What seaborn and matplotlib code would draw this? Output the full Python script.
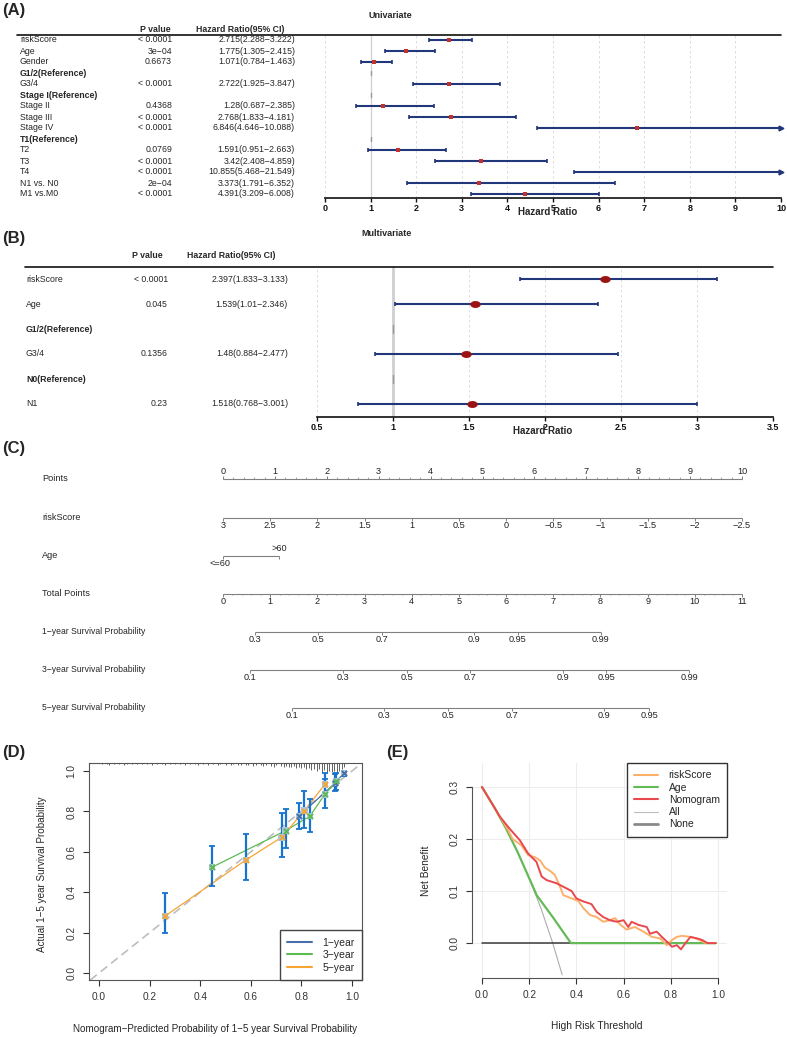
import numpy as np
import pandas as pd
import seaborn as sns
import matplotlib.pyplot as plt
from matplotlib.path import Path
from matplotlib.lines import Line2D
from matplotlib.transforms import blended_transform_factory

nan = np.nan

# ---------------- (A) univariate Cox ----------------
uni_names = ["riskScore", "Age", "Gender", "G1/2(Reference)", "G3/4", "Stage I(Reference)",
             "Stage II", "Stage III", "Stage IV", "T1(Reference)", "T2", "T3", "T4",
             "N1 vs. N0", "M1 vs.M0"]
uni_p = ["< 0.0001", "3e−04", "0.6673", "", "< 0.0001", "", "0.4368", "< 0.0001", "< 0.0001",
         "", "0.0769", "< 0.0001", "< 0.0001", "2e−04", "< 0.0001"]
uni_hr = [2.715, 1.775, 1.071, nan, 2.722, nan, 1.28, 2.768, 6.846, nan, 1.591, 3.42, 10.855, 3.373, 4.391]
uni_lo = [2.288, 1.305, 0.784, nan, 1.925, nan, 0.687, 1.833, 4.646, nan, 0.951, 2.408, 5.468, 1.791, 3.209]
uni_hi = [3.222, 2.415, 1.463, nan, 3.847, nan, 2.385, 4.181, 10.088, nan, 2.663, 4.859, 21.549, 6.352, 6.008]
uni_ticks = [0, 1, 2, 3, 4, 5, 6, 7, 8, 9, 10]

# ---------------- (B) multivariate Cox ----------------
multi_names = ["riskScore", "Age", "G1/2(Reference)", "G3/4", "N0(Reference)", "N1"]
multi_p = ["< 0.0001", "0.045", "", "0.1356", "", "0.23"]
multi_hr = [2.397, 1.539, nan, 1.48, nan, 1.518]
multi_lo = [1.833, 1.01, nan, 0.884, nan, 0.768]
multi_hi = [3.133, 2.346, nan, 2.477, nan, 3.001]
multi_ticks = [0.5, 1, 1.5, 2, 2.5, 3, 3.5]

# ---------------- (C) nomogram ----------------
nomo_labels = ["Points", "riskScore", "Age", "Total Points", "1−year Survival Probability",
               "3−year Survival Probability", "5−year Survival Probability"]
points_ticks = [0, 1, 2, 3, 4, 5, 6, 7, 8, 9, 10]
risk_ticks = [3, 2.5, 2, 1.5, 1, 0.5, 0, -0.5, -1, -1.5, -2, -2.5]
risk_ends = [3, -2.5]            # riskScore at 0 and 10 points
age_levels = ["<=60", ">60"]
age_points = [0, 1.08]
total_ticks = [0, 1, 2, 3, 4, 5, 6, 7, 8, 9, 10, 11]
surv1_labels = ["0.3", "0.5", "0.7", "0.9", "0.95", "0.99"]
surv1_total = [0.68, 2.01, 3.37, 5.32, 6.25, 8.01]
surv3_labels = ["0.1", "0.3", "0.5", "0.7", "0.9", "0.95", "0.99"]
surv3_total = [0.57, 2.54, 3.90, 5.24, 7.21, 8.12, 9.88]
surv5_labels = ["0.1", "0.3", "0.5", "0.7", "0.9", "0.95"]
surv5_total = [1.46, 3.41, 4.77, 6.13, 8.08, 9.03]

# ---------------- (D) calibration ----------------
cal1_x = [0.790, 0.935, 0.968]
cal1_y = [0.777, 0.942, 0.990]
cal1_lo = [0.715, 0.902, 0.975]
cal1_hi = [0.843, 0.985, 1.000]
cal3_x = [0.447, 0.738, 0.834, 0.893, 0.939]
cal3_y = [0.524, 0.705, 0.777, 0.885, 0.950]
cal3_lo = [0.430, 0.620, 0.698, 0.818, 0.905]
cal3_hi = [0.630, 0.810, 0.863, 0.960, 0.990]
cal5_x = [0.261, 0.581, 0.722, 0.812, 0.893]
cal5_y = [0.282, 0.560, 0.672, 0.804, 0.934]
cal5_lo = [0.198, 0.460, 0.575, 0.720, 0.873]
cal5_hi = [0.396, 0.690, 0.790, 0.902, 0.992]
rug_x = [0.01, 0.03, 0.04, 0.06, 0.08, 0.10, 0.11, 0.13, 0.15, 0.17, 0.19, 0.21, 0.23, 0.25, 0.26,
         0.28, 0.30, 0.32, 0.34, 0.36, 0.38, 0.39, 0.41, 0.43, 0.45, 0.47, 0.48, 0.50, 0.52, 0.53,
         0.55, 0.56, 0.58, 0.59, 0.61, 0.62, 0.64, 0.65, 0.66, 0.68, 0.69, 0.70, 0.72, 0.73, 0.74,
         0.75, 0.76, 0.77, 0.78, 0.79, 0.80, 0.81, 0.82, 0.83, 0.84, 0.85, 0.86, 0.87, 0.88, 0.89,
         0.90, 0.91, 0.92, 0.93, 0.94, 0.95, 0.96, 0.97]
rug_h = [0.006, 0.005, 0.008, 0.005, 0.006, 0.008, 0.005, 0.006, 0.007, 0.005,
         0.006, 0.008, 0.006, 0.005, 0.008, 0.006, 0.007, 0.005, 0.008, 0.006,
         0.007, 0.010, 0.006, 0.008, 0.007, 0.010, 0.006, 0.008, 0.012, 0.007,
         0.010, 0.008, 0.012, 0.009, 0.014, 0.010, 0.012, 0.016, 0.010, 0.014,
         0.018, 0.012, 0.016, 0.020, 0.014, 0.022, 0.018, 0.016, 0.024, 0.020,
         0.026, 0.022, 0.030, 0.024, 0.034, 0.028, 0.040, 0.032, 0.044, 0.036,
         0.050, 0.040, 0.046, 0.038, 0.050, 0.042, 0.030, 0.020]

# ---------------- (E) decision curves ----------------
all_t = [0.0, 0.05, 0.10, 0.15, 0.20, 0.25, 0.30, 0.34]
all_nb = [0.300, 0.263, 0.222, 0.176, 0.125, 0.067, 0.000, -0.061]
age_t = [0.0, 0.05, 0.10, 0.15, 0.20, 0.232, 0.30, 0.377, 0.99]
age_nb = [0.300, 0.263, 0.222, 0.176, 0.125, 0.092, 0.050, 0.000, 0.000]
risk_t = [0.0, 0.076, 0.11, 0.13, 0.167, 0.196, 0.224, 0.246, 0.267, 0.288, 0.309, 0.331, 0.345,
          0.38, 0.408, 0.43, 0.458, 0.486, 0.514, 0.542, 0.564, 0.585, 0.613, 0.648, 0.684, 0.72,
          0.755, 0.783, 0.805, 0.826, 0.847, 0.883, 0.912, 0.947, 0.99]
risk_nb = [0.300, 0.243, 0.218, 0.200, 0.188, 0.169, 0.165, 0.159, 0.145, 0.139, 0.131, 0.108, 0.092,
           0.086, 0.081, 0.067, 0.054, 0.050, 0.041, 0.044, 0.048, 0.036, 0.026, 0.031, 0.022, 0.012,
           0.009, -0.004, 0.006, 0.012, 0.014, 0.012, 0.008, 0.000, 0.000]
nomo_t = [0.0, 0.076, 0.117, 0.16, 0.196, 0.231, 0.253, 0.274, 0.316, 0.359, 0.38, 0.40, 0.43,
          0.464, 0.486, 0.514, 0.542, 0.571, 0.60, 0.62, 0.634, 0.663, 0.698, 0.712, 0.74, 0.762,
          0.79, 0.805, 0.826, 0.843, 0.862, 0.883, 0.912, 0.933, 0.955, 0.99]
nomo_nb = [0.300, 0.243, 0.220, 0.198, 0.172, 0.156, 0.128, 0.121, 0.115, 0.105, 0.100, 0.086, 0.080,
           0.075, 0.060, 0.050, 0.044, 0.041, 0.044, 0.031, 0.041, 0.035, 0.031, 0.018, 0.022, 0.012,
           0.000, -0.007, -0.004, -0.012, 0.000, 0.012, 0.009, 0.006, 0.000, 0.000]

# ---------------- figure ----------------
sns.set_theme(style="white")
plt.rcParams['font.family'] = ['Liberation Sans', 'DejaVu Sans']
plt.rcParams['axes.unicode_minus'] = True

W, H = 787, 1037
fig = plt.figure(figsize=(W / 100, H / 100), dpi=100)


def px_axes(l, t, r, b):
    return fig.add_axes([l / W, 1 - b / H, (r - l) / W, (b - t) / H])


def ftext(x, y, s, **kw):
    kw.setdefault('va', 'center')
    fig.text(x / W, 1 - y / H, s, **kw)


navy = '#22367A'


def forest(names, pvals, hr, lo, hi, box, row0, step, ticks, cols, hdr_y, line_x0,
           fs, marker, ms, pcolor, cap, ref_lw):
    l, t, r, b = box
    ax = px_axes(l, t, r, b)
    hr, lo, hi = np.array(hr), np.array(lo), np.array(hi)
    n = len(names)
    rows = np.arange(n)
    ax.set_ylim((b - row0) / step, (t - row0) / step)
    ax.set_xlim(ticks[0], ticks[-1])
    ax.patch.set_alpha(0)
    xmax = ticks[-1]
    for x in ticks:
        ax.axvline(x, color='#D8D8D8', ls=(0, (3, 3)), lw=0.6, zorder=0)
    ax.axvline(1, color='#CFCFCF', lw=ref_lw, zorder=0)
    ok = ~np.isnan(hr)
    ax.hlines(rows[ok], lo[ok], np.minimum(hi[ok], xmax), color=navy, lw=1.5, zorder=2)
    ax.vlines(lo[ok], rows[ok] - cap, rows[ok] + cap, color=navy, lw=1.2, zorder=2)
    inr = ok & (hi <= xmax)
    ax.vlines(hi[inr], rows[inr] - cap, rows[inr] + cap, color=navy, lw=1.2, zorder=2)
    over = ok & (hi > xmax)
    ax.plot(np.full(over.sum(), xmax), rows[over], ls='none', marker='>', ms=3.5,
            color=navy, clip_on=False, zorder=3)
    pt = ok & (hr <= xmax)
    ax.plot(hr[pt], rows[pt], ls='none', marker=marker, ms=ms, color=pcolor, mew=0, zorder=4)
    for i in rows[~ok]:
        ax.plot([1, 1], [i - 0.15, i + 0.15], color='#9A9A9A', lw=1, zorder=1)
    for s in ['left', 'top', 'right']:
        ax.spines[s].set_visible(False)
    ax.spines['bottom'].set_linewidth(1.3)
    ax.spines['bottom'].set_color('#222222')
    ax.set_yticks([])
    ax.set_xticks(ticks)
    ax.set_xticklabels([f"{v:g}" for v in ticks], fontweight='bold')
    ax.tick_params(axis='x', length=3, width=1, pad=1, labelsize=6.5, bottom=True, colors='#111111')

    bl = blended_transform_factory(fig.transFigure, ax.transData)
    name_x, p_x, hr_x, hp_x, hh_x = cols
    for i in rows:
        ref = not ok[i]
        ax.text(name_x / W, i, names[i], transform=bl, ha='left', va='center', fontsize=fs,
                fontweight='bold' if ref else 'normal', clip_on=False)
        if not ref:
            ax.text(p_x / W, i, pvals[i], transform=bl, ha='right', va='center', fontsize=fs, clip_on=False)
            ax.text(hr_x / W, i, f"{hr[i]:g}({lo[i]:g}−{hi[i]:g})", transform=bl, ha='right',
                    va='center', fontsize=fs, clip_on=False)
    hy = (hdr_y - row0) / step
    ax.text(hp_x / W, hy, "P value", transform=bl, ha='center', va='center', fontsize=fs,
            fontweight='bold', clip_on=False)
    ax.text(hh_x / W, hy, "Hazard Ratio(95% CI)", transform=bl, ha='center', va='center',
            fontsize=fs, fontweight='bold', clip_on=False)
    ty = (t - row0) / step
    ax.plot([line_x0 / W, r / W], [ty, ty], transform=bl, color='#111111', lw=1.2, clip_on=False)
    return ax


# (A)
forest(uni_names, uni_p, uni_hr, uni_lo, uni_hi, (325, 35, 781, 198), 40, 11, uni_ticks,
       (20, 172, 295, 155, 240), 29, 17, 6.3, 's', 2.8, '#C4302B', 0.14, 0.9)
ftext(2, 11, "(A)", fontsize=12, fontweight='bold')
ftext(390, 16, "Univariate", fontsize=6.5, fontweight='bold', ha='center')
ftext(548, 212, "Hazard Ratio", fontsize=7, fontweight='bold', ha='center')

# (B)
tt = np.linspace(0, 2 * np.pi, 40)
ellipse = Path(np.column_stack([1.5 * np.cos(tt), np.sin(tt)]), closed=True)
forest(multi_names, multi_p, multi_hr, multi_lo, multi_hi, (317, 267, 773, 417), 279, 25, multi_ticks,
       (26, 168, 288, 147, 231), 255, 25, 6.3, ellipse, 7.5, '#9B1414', 0.09, 2.0)
ftext(2, 238, "(B)", fontsize=12, fontweight='bold')
ftext(387, 234, "Multivariate", fontsize=6.5, fontweight='bold', ha='center')
ftext(543, 431, "Hazard Ratio", fontsize=7, fontweight='bold', ha='center')

# (C) nomogram
axc = px_axes(0, 440, 787, 730)
axc.set_xlim(-223 / 51.9, (787 - 223) / 51.9)
axc.set_ylim(730, 440)
axc.axis('off')
ftext(2, 448, "(C)", fontsize=12, fontweight='bold')
rows_px = [479, 518, 556, 594, 632, 670, 708]
lab_tr = blended_transform_factory(axc.transAxes, axc.transData)
gray = '#808080'
tfs = 6.6
for lab, y in zip(nomo_labels, rows_px):
    axc.text(42 / W, y, lab, transform=lab_tr, ha='left', va='center', fontsize=6.6 if y < 600 else 6.2)


def scale_row(y, pos, labels, up=False, minor=None):
    pos = np.asarray(pos, float)
    axc.hlines(y, pos.min(), pos.max(), color=gray, lw=0.8)
    d = -1 if up else 1
    axc.vlines(pos, y, y + d * 3, color=gray, lw=0.7)
    if minor is not None:
        axc.vlines(minor, y, y + d * 1.5, color=gray, lw=0.5)
    for p, s in zip(pos, labels):
        axc.text(p, y + d * 7.5, s, ha='center', va='center', fontsize=tfs, color='#222222')


scale_row(rows_px[0], points_ticks, [str(v) for v in points_ticks], up=True,
          minor=np.arange(0, 10.01, 0.2))
risk_pts = [(risk_ends[0] - v) / (risk_ends[0] - risk_ends[1]) * 10 for v in risk_ticks]
scale_row(rows_px[1], risk_pts, [f"{v:g}".replace('-', '−') for v in risk_ticks])
y = rows_px[2]
axc.hlines(y, age_points[0], age_points[1], color=gray, lw=0.8)
axc.vlines(age_points, y, y + 3, color=gray, lw=0.7)
axc.text(age_points[0] - 0.05, y + 7.5, age_levels[0], ha='center', va='center', fontsize=tfs)
axc.text(age_points[1], y - 7, age_levels[1], ha='center', va='center', fontsize=tfs)
tot_pts = [v * 10 / 11 for v in total_ticks]
scale_row(rows_px[3], tot_pts, [str(v) for v in total_ticks],
          minor=np.arange(0, 11.01, 0.2) * 10 / 11)
for yy, labs, tots in [(rows_px[4], surv1_labels, surv1_total), (rows_px[5], surv3_labels, surv3_total),
                       (rows_px[6], surv5_labels, surv5_total)]:
    scale_row(yy, [v * 10 / 11 for v in tots], labs)

# (D) calibration
axd = px_axes(89, 763, 362, 980)
axd.set_xlim(-0.04, 1.04)
axd.set_ylim(-0.035, 1.04)
axd.axline((0, 0), slope=1, color='#BDBDBD', lw=1.2, ls=(0, (5, 3)), zorder=1)
top = axd.get_ylim()[1]
axd.vlines(rug_x, top - np.array(rug_h), top, color='#222222', lw=0.5, zorder=2)
cal_sets = [("1−year", '#4A6FA8', cal1_x, cal1_y, cal1_lo, cal1_hi),
            ("3−year", '#5CBA52', cal3_x, cal3_y, cal3_lo, cal3_hi),
            ("5−year", '#F6A532', cal5_x, cal5_y, cal5_lo, cal5_hi)]
for lab, col, cx, cy, clo, chi in cal_sets:
    cx, cy, clo, chi = map(np.array, (cx, cy, clo, chi))
    sns.lineplot(x=cx, y=cy, ax=axd, color=col, lw=0.9, estimator=None, sort=False, legend=False, zorder=3)
    axd.errorbar(cx, cy, yerr=[cy - clo, chi - cy], fmt='none', ecolor='#1874CD', elinewidth=1.6,
                 capsize=2.5, capthick=1.3, zorder=4)
    axd.scatter(cx, cy, marker='s', s=22, color='#A9C4DD', edgecolor='none', zorder=5)
    axd.scatter(cx, cy, marker='x', s=14, color=col, linewidths=1.4, zorder=6)
handles = [Line2D([], [], color=c, lw=1.5) for _, c, *_ in cal_sets]
axd.legend(handles, [s[0] for s in cal_sets], loc='lower right', frameon=True, fancybox=False,
           edgecolor='#444444', framealpha=1, fontsize=7.5, borderaxespad=0, handlelength=2.4,
           borderpad=0.7, labelspacing=0.25, handletextpad=1.0)
axd.set_xticks([0, 0.2, 0.4, 0.6, 0.8, 1.0])
axd.set_yticks([0, 0.2, 0.4, 0.6, 0.8, 1.0])
axd.set_xticklabels(["0.0", "0.2", "0.4", "0.6", "0.8", "1.0"])
axd.set_yticklabels(["0.0", "0.2", "0.4", "0.6", "0.8", "1.0"], rotation=90, va='center')
axd.tick_params(length=4, width=0.8, pad=5, labelsize=7.3, left=True, bottom=True, colors='#333333')
for s in axd.spines.values():
    s.set_color('#555555')
    s.set_linewidth(0.8)
ftext(2, 752, "(D)", fontsize=12, fontweight='bold')
ftext(215, 1029, "Nomogram−Predicted Probability of 1−5 year Survival Probability", fontsize=7.1, ha='center')
ftext(42, 874, "Actual 1−5 year Survival Probability", fontsize=7.1, ha='center', rotation=90)

# (E) decision curves
axe = px_axes(472, 763, 727, 978)
axe.set_xlim(-0.042, 1.038)
axe.set_ylim(-0.067, 0.346)
for x in [0, 0.2, 0.4, 0.6, 0.8, 1.0]:
    axe.axvline(x, color='#EDEDED', lw=0.8, zorder=0)
for yv in [0.0, 0.1, 0.2, 0.3]:
    axe.axhline(yv, color='#EDEDED', lw=0.8, zorder=0)
dca = [("All", '#ADADAD', 0.8, all_t, all_nb),
       ("None", '#3A3A3A', 1.1, [0.0, 0.99], [0.0, 0.0]),
       ("Age", '#63BB57', 1.6, age_t, age_nb),
       ("riskScore", '#FDB06A', 1.4, risk_t, risk_nb),
       ("Nomogram", '#E8494E', 1.4, nomo_t, nomo_nb)]
for lab, col, lw, tx, ny in dca:
    sns.lineplot(x=tx, y=ny, ax=axe, color=col, lw=lw, estimator=None, sort=False, legend=False)
order = ["riskScore", "Age", "Nomogram", "All", "None"]
leg_style = {"riskScore": ('#FDB06A', 1.5), "Age": ('#63BB57', 1.5), "Nomogram": ('#E8494E', 1.5),
             "All": ('#BDBDBD', 0.8), "None": ('#8A8A8A', 2.0)}
handles = [Line2D([], [], color=leg_style[k][0], lw=leg_style[k][1]) for k in order]
axe.legend(handles, order, loc='upper right', bbox_to_anchor=(1, 1), frameon=True, fancybox=False,
           edgecolor='#333333', framealpha=1, fontsize=7.5, borderaxespad=0, handlelength=2.3,
           borderpad=0.7, labelspacing=0.22, handletextpad=1.0)
for s in ['top', 'right']:
    axe.spines[s].set_visible(False)
axe.spines['left'].set_bounds(0, 0.3)
axe.spines['bottom'].set_bounds(0, 1)
for s in ['left', 'bottom']:
    axe.spines[s].set_color('#555555')
    axe.spines[s].set_linewidth(0.8)
axe.set_xticks([0, 0.2, 0.4, 0.6, 0.8, 1.0])
axe.set_xticklabels(["0.0", "0.2", "0.4", "0.6", "0.8", "1.0"])
axe.set_yticks([0, 0.1, 0.2, 0.3])
axe.set_yticklabels(["0.0", "0.1", "0.2", "0.3"], rotation=90, va='center')
axe.tick_params(length=4, width=0.8, pad=5, labelsize=7.3, left=True, bottom=True, colors='#333333')
ftext(386, 752, "(E)", fontsize=12, fontweight='bold')
ftext(597, 1026, "High Risk Threshold", fontsize=7.3, ha='center')
ftext(426, 871, "Net Benefit", fontsize=7.3, ha='center', rotation=90)

fig.savefig("out.png", dpi=100)
